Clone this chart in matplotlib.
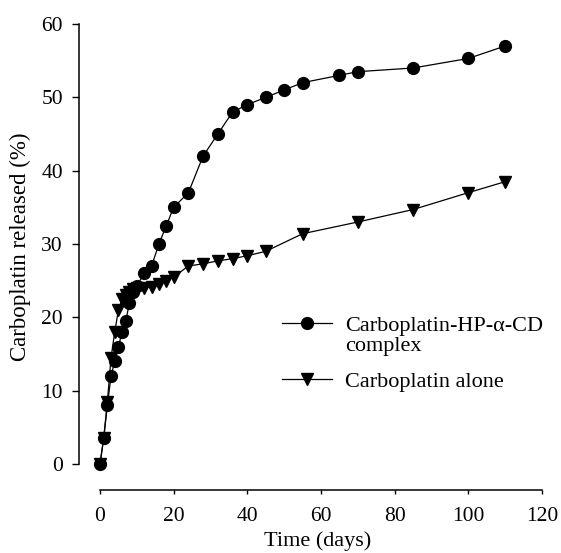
import matplotlib
matplotlib.use("Agg")
import matplotlib.pyplot as plt

plt.rcParams['font.family'] = ['Liberation Serif', 'DejaVu Serif']

# Carboplatin-HP-alpha-CD complex
days_complex = [0, 1, 2, 3, 4, 5, 6, 7, 8, 9, 10, 12, 14, 16, 18, 20, 24, 28, 32, 36,
                40, 45, 50, 55, 65, 70, 85, 100, 110]
rel_complex = [0, 3.5, 8, 12, 14, 16, 18, 19.5, 22, 23.5, 24.3, 26, 27, 30, 32.5, 35, 37, 42, 45, 48,
               49, 50, 51, 52, 53, 53.5, 54, 55.3, 57]

# Carboplatin alone
days_alone = [0, 1, 2, 3, 4, 5, 6, 7, 8, 9, 10, 12, 14, 16, 18, 20, 24, 28, 32, 36,
              40, 45, 55, 70, 85, 100, 110]
rel_alone = [0, 3.5, 8.5, 14.5, 18, 21, 22.5, 23, 23.5, 23.8, 24, 24, 24.2, 24.5, 25, 25.5, 27, 27.3, 27.7, 28,
             28.4, 29, 31.4, 33, 34.7, 37, 38.5]

xticks = [0, 20, 40, 60, 80, 100, 120]
yticks = [0, 10, 20, 30, 40, 50, 60]

W, H = 561, 553
PT = 72 / 100  # points per pixel
fig = plt.figure(figsize=(W / 100, H / 100), dpi=100)
ax = fig.add_axes([100 / W, (H - 464) / H, 442 / W, 440 / H])

l1, = ax.plot(days_complex, rel_complex, color='black', lw=0.9, marker='o', ms=8.5,
              clip_on=False, zorder=3)
l2, = ax.plot(days_alone, rel_alone, color='black', lw=0.9, marker='v', ms=8.5,
              clip_on=False, zorder=3)

ax.set_xlim(0, 120)
ax.set_ylim(0, 60)
ax.set_xticks(xticks)
ax.set_yticks(yticks)

for s in ['top', 'right']:
    ax.spines[s].set_visible(False)
ax.spines['left'].set_position(('outward', 21 * PT))
ax.spines['bottom'].set_position(('outward', 26 * PT))
for s in ['left', 'bottom']:
    ax.spines[s].set_linewidth(1.1)

ax.tick_params(axis='y', direction='out', length=7 * PT, width=1.0, pad=9 * PT, labelsize=15.5)
ax.tick_params(axis='x', direction='out', length=4 * PT, width=1.0, pad=13 * PT, labelsize=15.5)

ax.set_xlabel('Time (days)', fontsize=16, va='center')
ax.set_ylabel('Carboplatin released (%)', fontsize=16.5, va='center')
ax.xaxis.set_label_coords(318 / W, (H - 541) / H, transform=fig.transFigure)
ax.yaxis.set_label_coords(20 / W, (H - 247) / H, transform=fig.transFigure)

leg = ax.legend([l1, l2], ['Carboplatin-HP-\u03b1-CD', 'Carboplatin alone'],
                loc='upper left', bbox_to_anchor=(282 / W, (H - 315) / H),
                bbox_transform=fig.transFigure, frameon=False, fontsize=16,
                handlelength=2.4 * 15 / 16, handletextpad=0.6, borderpad=0, borderaxespad=0,
                labelspacing=1.62, numpoints=1)
fig.text(345 / W, (H - 347) / H, 'complex', fontsize=16, va='center', ha='left')

fig.savefig('out.png', dpi=100)
